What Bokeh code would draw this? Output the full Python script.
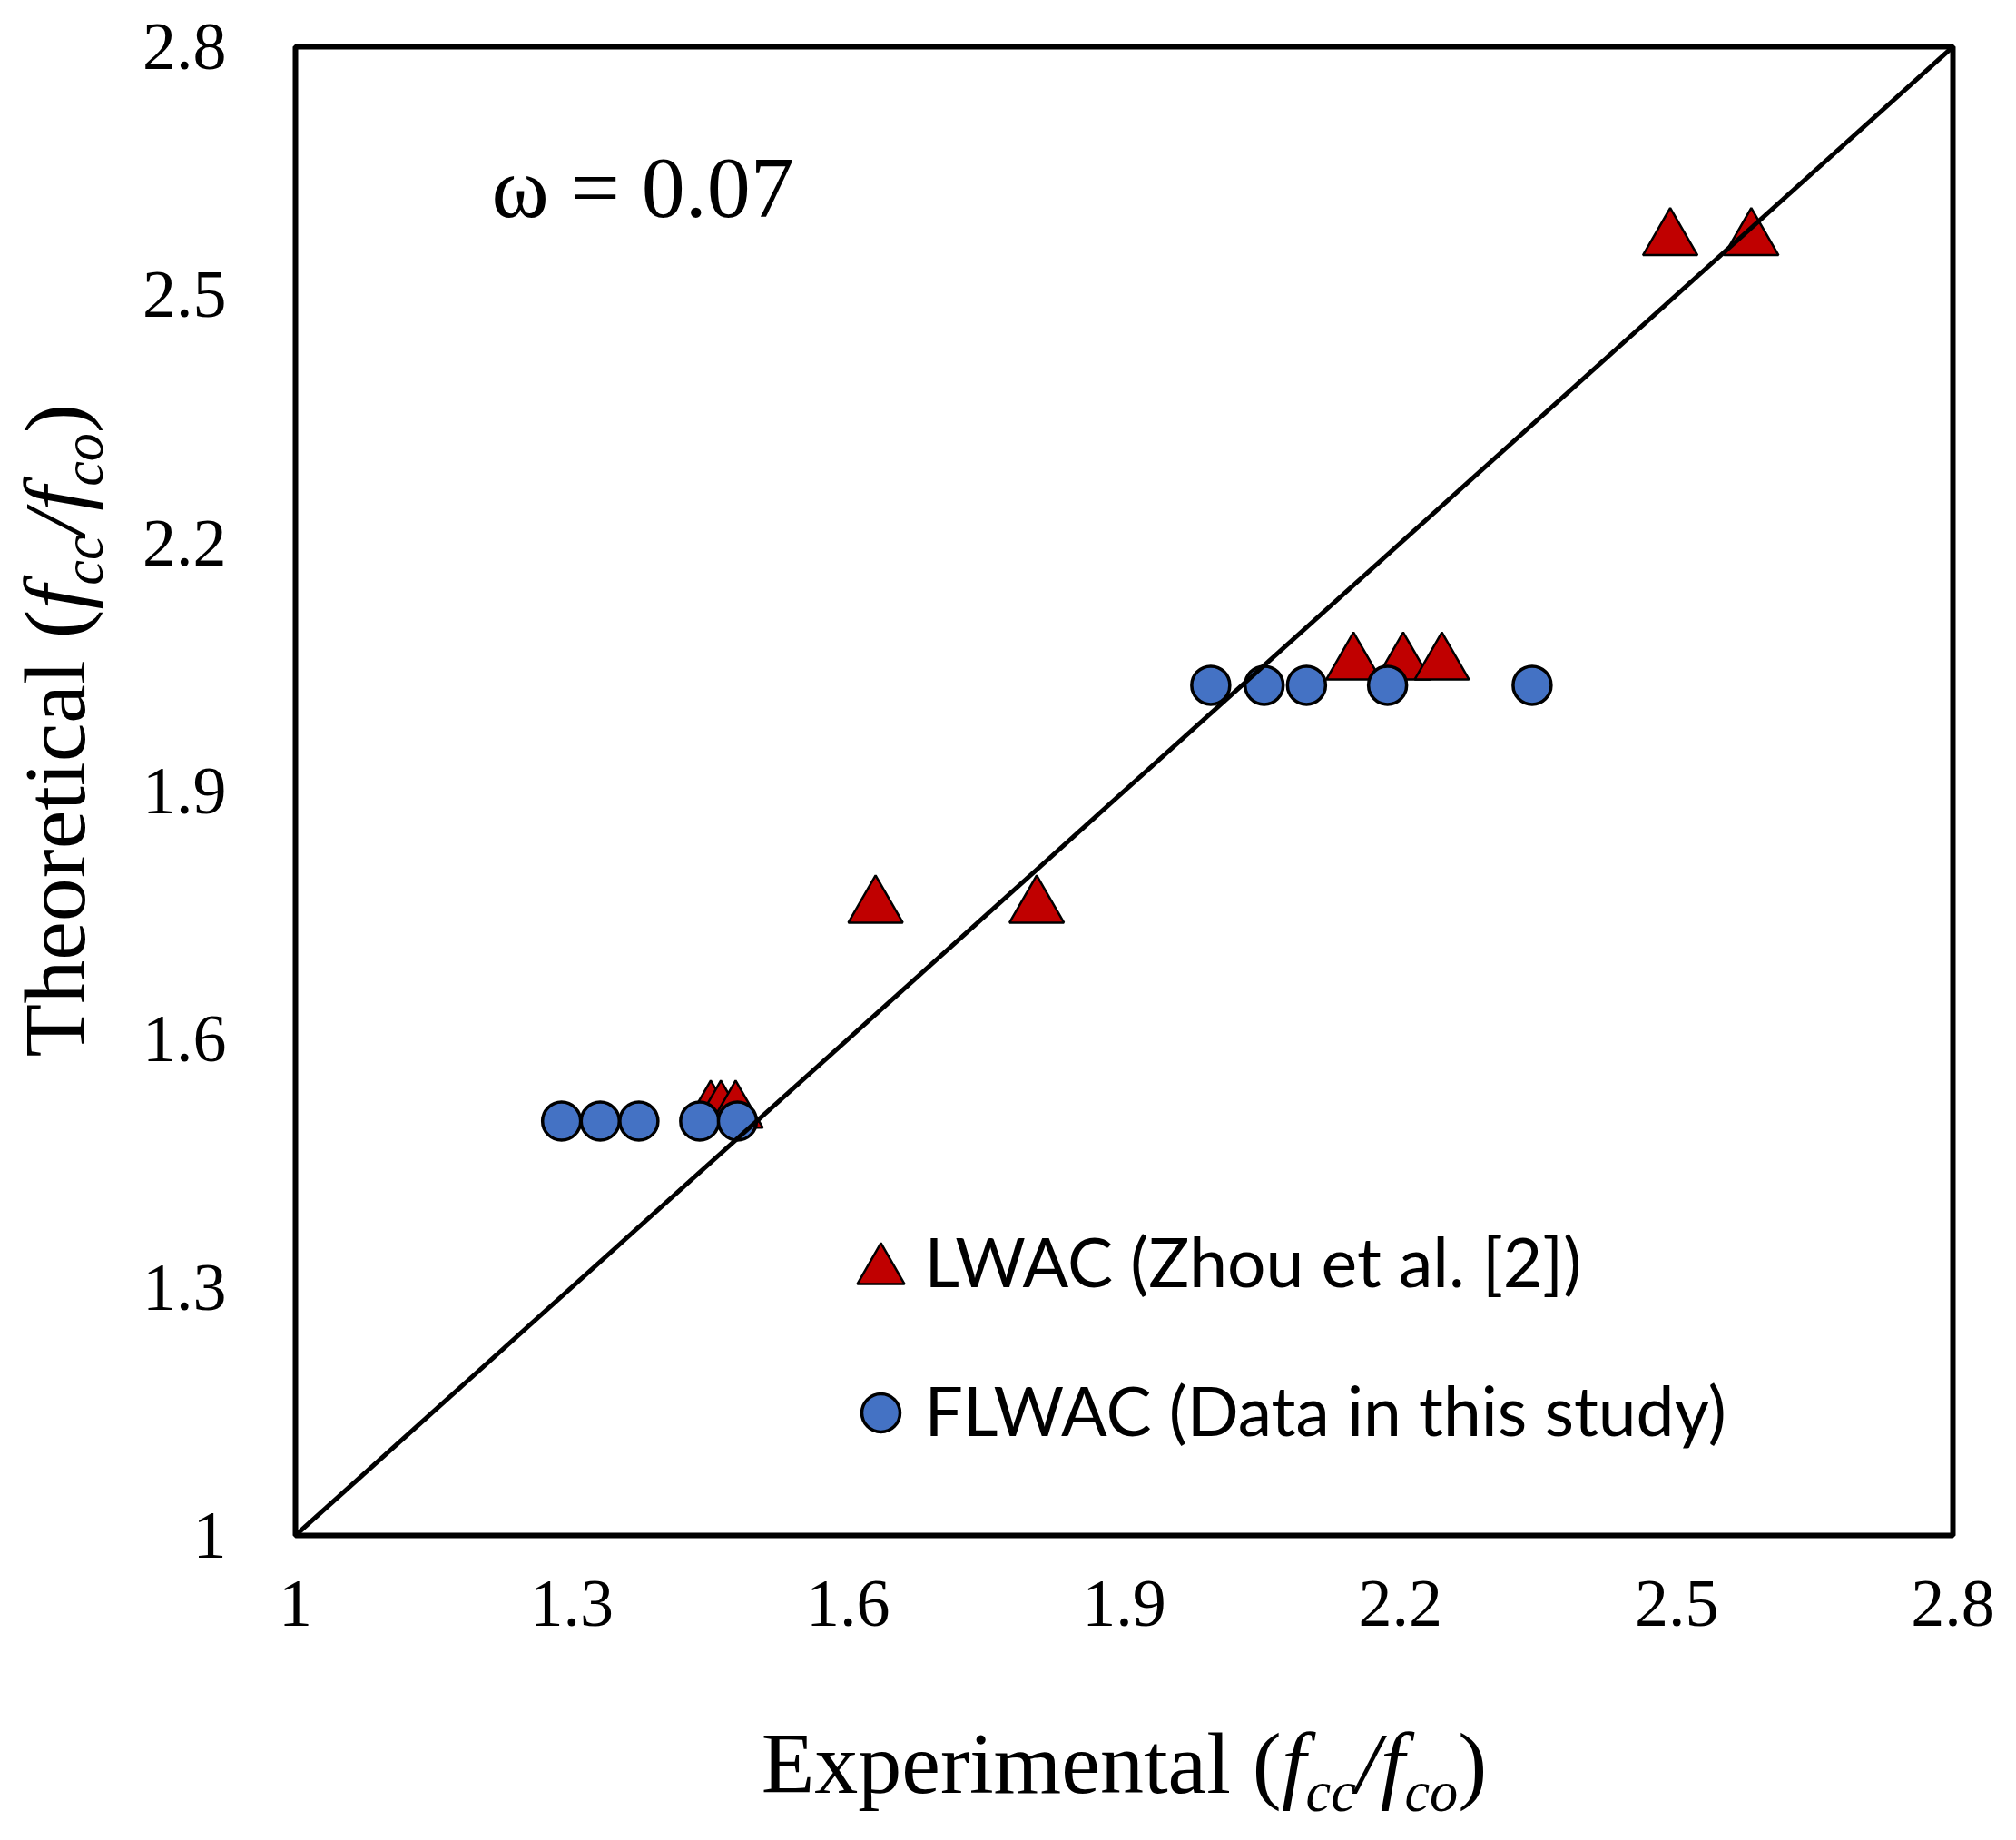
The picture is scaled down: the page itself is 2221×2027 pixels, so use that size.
import math
from bokeh.plotting import figure
from bokeh.models import Label, FixedTicker, ColumnDataSource
from bokeh.layouts import row, column
from bokeh.core.properties import value
from bokeh.embed import file_html
from bokeh.resources import INLINE

# ---------------- data ----------------
flwac_x = [1.289, 1.331, 1.373, 1.439, 1.480, 1.994, 2.052, 2.098, 2.186, 2.343]
flwac_y = [1.501, 1.501, 1.501, 1.501, 1.501, 2.028, 2.028, 2.028, 2.028, 2.028]

lwac_x = [1.451, 1.462, 1.478, 1.630, 1.805, 2.149, 2.203, 2.245, 2.493, 2.581]
lwac_y = [1.512, 1.512, 1.512, 1.760, 1.760, 2.054, 2.054, 2.054, 2.567, 2.567]

diag_x = [1.0, 2.8]
diag_y = [1.0, 2.8]

ticks = [1.0, 1.3, 1.6, 1.9, 2.2, 2.5, 2.8]
tick_labels = ["1", "1.3", "1.6", "1.9", "2.2", "2.5", "2.8"]

series_names = ["LWAC (Zhou et al. [2])", "FLWAC (Data in this study)"]
omega_text = "ω = 0.07"
x_title_word = "Experimental"
y_title_word = "Theoretical"

# ---------------- layout (page pixels) ----------------
PAGE = 1                       # observed page origin of the plot
W, H = 2200, 2010
WL = 140                       # width of left title strip
FL, FR, FT, FB = 326, 2152, 52, 1692
XMIN, XMAX, YMIN, YMAX = 1.0, 2.8, 1.0, 2.8
WM = W - WL
BL = FL - PAGE - WL
BR = WM - BL - (FR - FL)
BT = FT - PAGE
BB = 160
HM = (FB - PAGE) + BB
HB = H - HM
K = 0.35                       # baseline correction (em)

p = figure(width=WM, height=HM, x_range=(XMIN, XMAX), y_range=(YMIN, YMAX),
           output_backend="svg", toolbar_location=None, title=None,
           min_border_left=BL, min_border_right=BR,
           min_border_top=BT, min_border_bottom=BB)
p.background_fill_color = "white"
p.border_fill_color = "white"
p.outline_line_color = "black"
p.outline_line_width = 6
p.xgrid.visible = False
p.ygrid.visible = False

overrides = {t: l for t, l in zip(ticks, tick_labels)}
for ax, standoff in ((p.xaxis[0], 50), (p.yaxis[0], 76)):
    ax.ticker = FixedTicker(ticks=ticks)
    ax.major_label_overrides = overrides
    ax.axis_line_color = None
    ax.major_tick_line_color = None
    ax.minor_tick_line_color = None
    ax.major_tick_out = 0
    ax.major_tick_in = 0
    ax.minor_tick_out = 0
    ax.minor_tick_in = 0
    ax.major_label_text_font = "Liberation Serif"
    ax.major_label_text_font_size = "74px"
    ax.major_label_text_color = "black"
    ax.major_label_standoff = standoff

# ---------------- marks ----------------
p.scatter(lwac_x, lwac_y, marker="triangle", size=60, fill_color="#C00000",
          line_color="black", line_width=2.5)
p.scatter(flwac_x, flwac_y, marker="circle", size=42, fill_color="#4472C4",
          line_color="black", line_width=3.5)
p.line(diag_x, diag_y, line_color="black", line_width=5)

# ---------------- helpers ----------------
SX = (FR - FL) / (XMAX - XMIN)
SY = (FB - FT) / (YMAX - YMIN)
def dx(px):
    return XMIN + (px - FL) / SX
def dy(py):
    return YMIN + (FB - py) / SY

REG = {'E': 611, 'x': 500, 'p': 500, 'e': 444, 'r': 333, 'i': 278, 'm': 778,
       'n': 500, 't': 278, 'a': 444, 'l': 278, ' ': 250, '(': 333, ')': 333,
       'T': 611, 'h': 500, 'o': 500, 'c': 444}
ITA = {'f': 278, 'c': 444, 'o': 500, '/': 278}

def width(txt, italic, size):
    tab = ITA if italic else REG
    return sum(tab.get(ch, 500) for ch in txt) / 1000.0 * size

def title_pieces(word, F):
    sub = 0.65 * F
    shift = 0.2 * F
    return [
        (word + " (", False, F, 0.0),
        ("f", True, F, 0.0),
        ("cc", True, sub, shift),
        ("/", True, F, 0.0),
        ("f", True, F, 0.0),
        ("co", True, sub, shift),
        (")", False, F, 0.0),
    ]

TF = 96

# omega annotation
p.add_layout(Label(x=dx(542), y=dy(241 - K * 96), text=omega_text,
                   text_font="Liberation Serif", text_font_size="96px",
                   text_color="black", text_align="left", text_baseline="alphabetic"))

# legend (manual)
p.scatter([dx(971)], [dy(1400)], marker="triangle", size=52, fill_color="#C00000",
          line_color="black", line_width=2.5)
p.scatter([dx(971)], [dy(1557)], marker="circle", size=42, fill_color="#4472C4",
          line_color="black", line_width=3.5)
for name, base in zip(series_names, (1416, 1580)):
    p.add_layout(Label(x=dx(1019), y=dy(base - K * 75), text=name, text_font="Lato",
                       text_font_size="75px", text_color="black",
                       text_align="left", text_baseline="alphabetic"))

# ---------------- x title strip (frame aligned with the main frame) ----------------
xf = figure(width=WM, height=HB, x_range=(FL, FR), y_range=(0, HB),
            output_backend="svg", toolbar_location=None, title=None,
            x_axis_type=None, y_axis_type=None,
            min_border_left=BL, min_border_right=BR, min_border_top=0, min_border_bottom=0)
xf.outline_line_color = None
xf.xgrid.visible = False
xf.ygrid.visible = False
oy = PAGE + HM
pieces = title_pieces(x_title_word, TF)
total = sum(width(t, it, s) for t, it, s, _ in pieces)
cur = (FL + FR) / 2 - total / 2
xs, ys, txt, sty, siz = [], [], [], [], []
for t, it, s, sh in pieces:
    base_py = 1977 + sh - K * s
    xs.append(cur)
    ys.append(HB - (base_py - oy))
    txt.append(t)
    sty.append("italic" if it else "normal")
    siz.append(f"{s:.1f}px")
    cur += width(t, it, s)
xf.text(x="x", y="y", text="text", source=ColumnDataSource(dict(x=xs, y=ys, text=txt, style=sty, size=siz)),
        text_font=value("Liberation Serif"), text_font_style="style", text_font_size="size",
        text_color="black", text_align="left", text_baseline="alphabetic")

# ---------------- y title strip ----------------
yf = figure(width=WL, height=H, x_range=(0, WL), y_range=(0, H),
            output_backend="svg", toolbar_location=None, title=None,
            x_axis_type=None, y_axis_type=None, min_border=0)
yf.outline_line_color = None
yf.xgrid.visible = False
yf.ygrid.visible = False
pieces = title_pieces(y_title_word, TF)
cur = 1165
xs, ys, txt, sty, siz = [], [], [], [], []
for t, it, s, sh in pieces:
    base_px = 95 + sh - K * s
    xs.append(base_px - PAGE)
    ys.append(H - (cur - PAGE))
    txt.append(t)
    sty.append("italic" if it else "normal")
    siz.append(f"{s:.1f}px")
    cur -= width(t, it, s)
yf.text(x="x", y="y", text="text", source=ColumnDataSource(dict(x=xs, y=ys, text=txt, style=sty, size=siz)),
        text_font=value("Liberation Serif"), text_font_style="style", text_font_size="size",
        text_color="black", text_align="left", text_baseline="alphabetic", angle=math.pi / 2)

layout = row(yf, column(p, xf))
open("out.html", "w").write(file_html(layout, INLINE))
